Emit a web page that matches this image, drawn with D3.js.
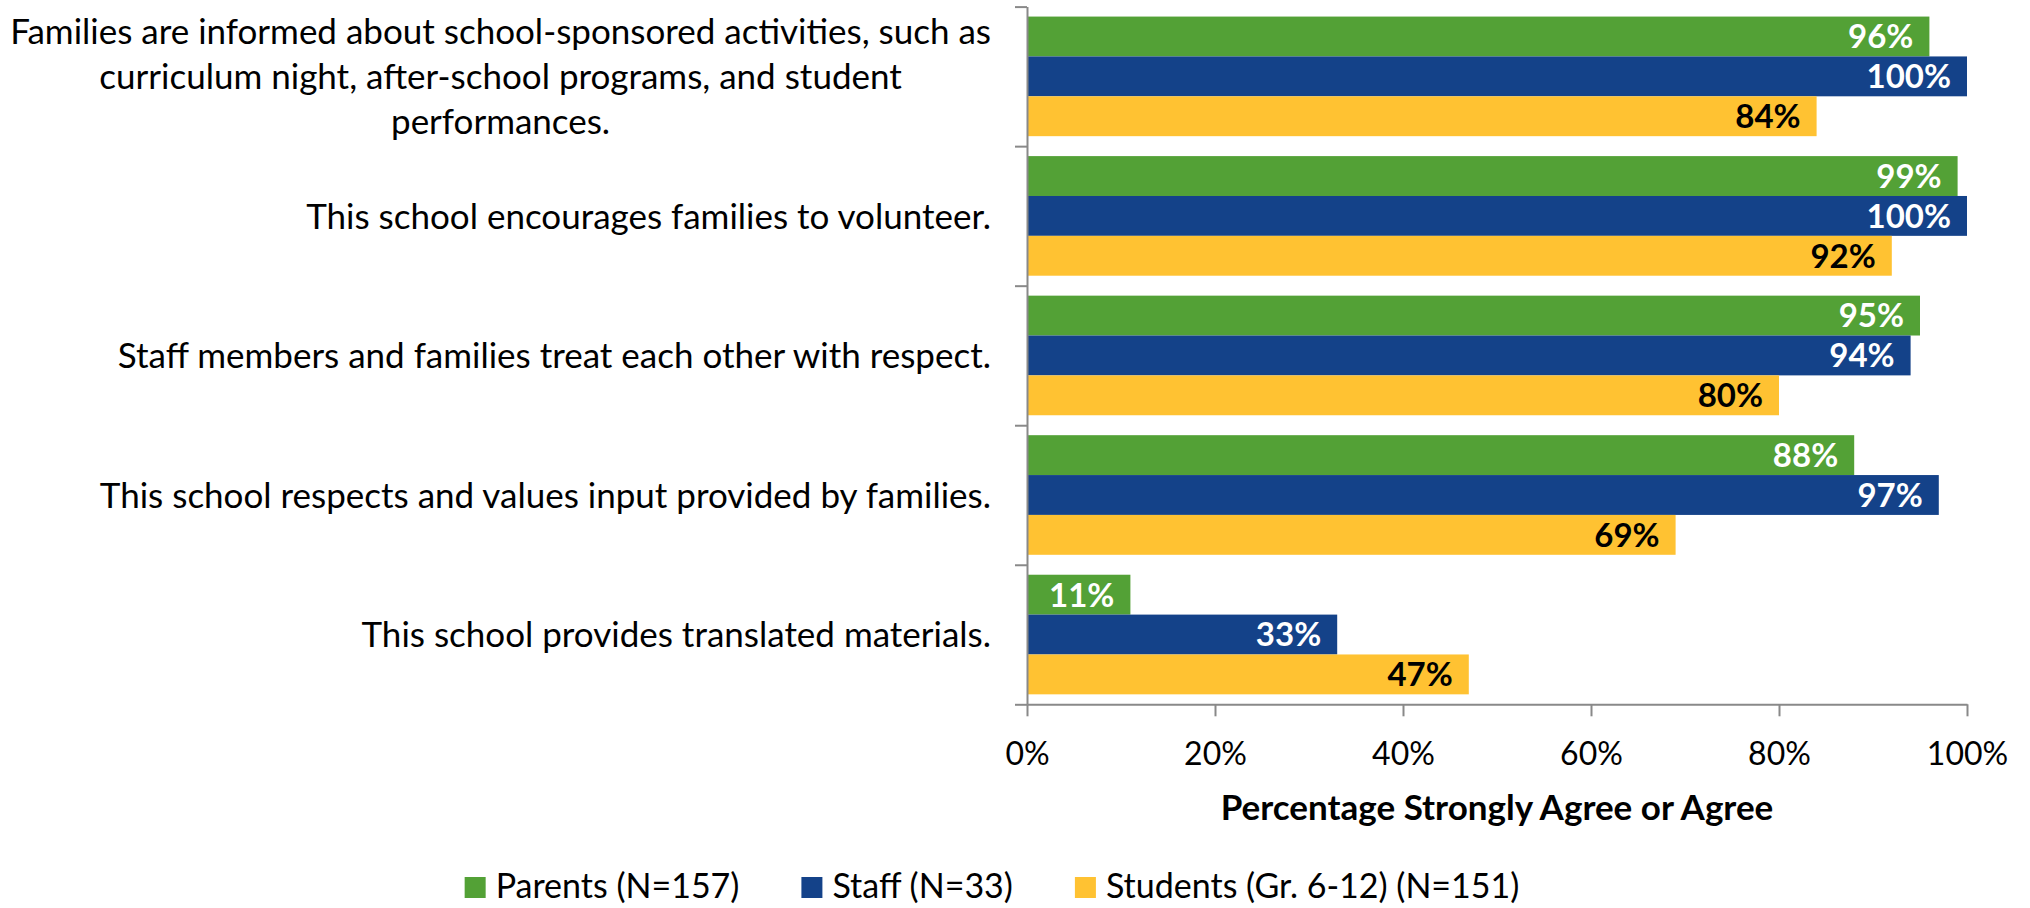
<!DOCTYPE html>
<html>
<head>
<meta charset="utf-8">
<script src="https://cdn.jsdelivr.net/npm/d3@7"></script>
<style>
  body { margin: 0; background: #fff; }
  svg { display: block; font-family: Lato, "Open Sans", sans-serif; }
</style>
</head>
<body>
<div id="chart"></div>
<script>
// survey items (line breaks as in the original)
const categories = [
  "Families are informed about school-sponsored activities, such as\ncurriculum night, after-school programs, and student\nperformances.",
  "This school encourages families to volunteer.",
  "Staff members and families treat each other with respect.",
  "This school respects and values input provided by families.",
  "This school provides translated materials."
];
const seriesNames = ["Parents (N=157)", "Staff (N=33)", "Students (Gr. 6-12) (N=151)"];
const parents = [96, 99, 95, 88, 11];
const staff = [100, 100, 94, 97, 33];
const students = [84, 92, 80, 69, 47];
const xTicks = [0, 20, 40, 60, 80, 100];
const xTitle = "Percentage Strongly Agree or Agree";

const colors = ["#53a136", "#144289", "#ffc232"];
const labelColors = ["#ffffff", "#ffffff", "#000000"];

function barChart() {
  const width = 2030, height = 908;
  const margin = { top: 6.6, left: 1027, right: 60, bottom: 204 };
  const axisColor = "#898989";

  const series = [parents, staff, students];
  const rows = categories.map((c, i) => ({
    cat: c,
    bars: series.map((s, k) => ({ k: k, value: s[i] }))
  }));

  const svg = d3.select("#chart")
    .append("svg")
    .attr("width", width)
    .attr("height", height);

  const x = d3.scaleLinear()
    .domain([0, 100])
    .range([margin.left, width - margin.right - 3]);

  const y = d3.scaleBand()
    .domain(categories)
    .range([margin.top, height - margin.bottom + 0.3])
    .paddingInner(0)
    .paddingOuter(0);

  const yInner = d3.scaleBand()
    .domain(d3.range(series.length))
    .range([0, y.bandwidth()])
    .paddingInner(0)
    .paddingOuter(0.25);

  // bars
  const groups = svg.append("g").selectAll("g")
    .data(rows)
    .join("g")
    .attr("transform", d => `translate(0,${y(d.cat)})`);

  groups.selectAll("rect")
    .data(d => d.bars)
    .join("rect")
    .attr("x", x(0))
    .attr("y", d => yInner(d.k))
    .attr("width", d => x(d.value) - x(0))
    .attr("height", yInner.bandwidth())
    .attr("fill", d => colors[d.k]);

  // value labels, inside end
  groups.selectAll("text")
    .data(d => d.bars)
    .join("text")
    .attr("x", d => x(d.value) - 16)
    .attr("y", d => yInner(d.k) + yInner.bandwidth() / 2)
    .attr("dy", "0.36em")
    .attr("text-anchor", "end")
    .attr("font-size", 33)
    .attr("font-weight", "bold")
    .attr("fill", d => labelColors[d.k])
    .text(d => d.value + "%");

  // category axis with ticks at band edges
  const yEdge = d3.scaleLinear()
    .domain([0, categories.length])
    .range(y.range());
  const leftAxis = svg.append("g")
    .attr("transform", `translate(${x(0)},0)`)
    .call(d3.axisLeft(yEdge)
      .tickValues(d3.range(categories.length + 1))
      .tickFormat("")
      .tickSize(12)
      .tickSizeOuter(0));
  leftAxis.select(".domain").attr("stroke", axisColor).attr("stroke-width", 2);
  leftAxis.selectAll(".tick line").attr("stroke", axisColor).attr("stroke-width", 2);

  // value axis
  const bottomAxis = svg.append("g")
    .attr("transform", `translate(0,${y.range()[1]})`)
    .call(d3.axisBottom(x)
      .tickValues(xTicks)
      .tickFormat(d => d + "%")
      .tickSize(12)
      .tickSizeOuter(0));
  bottomAxis.select(".domain").attr("stroke", axisColor).attr("stroke-width", 2);
  bottomAxis.selectAll(".tick line").attr("stroke", axisColor).attr("stroke-width", 2);
  bottomAxis.selectAll(".tick text")
    .attr("y", 49)
    .attr("dy", "0.36em")
    .attr("fill", "#000")
    .attr("font-size", 32)
    .attr("font-family", "Lato, 'Open Sans', sans-serif");

  svg.append("text")
    .attr("x", (x(0) + x(100)) / 2)
    .attr("y", 807)
    .attr("dy", "0.36em")
    .attr("text-anchor", "middle")
    .attr("font-size", 35)
    .attr("font-weight", "bold")
    .text(xTitle);

  // category labels: block right-aligned to the axis, lines centred inside it
  const labelRight = x(0) - 36;
  const lineH = 45;
  const catLabels = svg.append("g").selectAll("text")
    .data(categories)
    .join("text")
    .attr("font-size", 35)
    .attr("fill", "#000");

  catLabels.each(function (d) {
    const t = d3.select(this);
    const lines = d.split("\n");
    const cy = y(d) + y.bandwidth() / 2;
    lines.forEach((ln, i) => {
      t.append("tspan")
        .attr("y", cy + (i - (lines.length - 1) / 2) * lineH)
        .attr("dy", "0.36em")
        .text(ln);
    });
    const maxW = d3.max(t.selectAll("tspan").nodes(), n => n.getComputedTextLength());
    t.attr("text-anchor", "middle");
    t.selectAll("tspan").attr("x", labelRight - maxW / 2);
  });

  // legend
  const legend = svg.append("g");
  const items = legend.selectAll("g")
    .data(seriesNames)
    .join("g");
  items.append("rect")
    .attr("width", 21)
    .attr("height", 21)
    .attr("y", -9)
    .attr("fill", (d, i) => colors[i]);
  items.append("text")
    .attr("x", 31)
    .attr("dy", "0.36em")
    .attr("font-size", 34)
    .text(d => d);
  let cx = 0;
  items.each(function () {
    const g = d3.select(this);
    g.attr("transform", `translate(${cx},0)`);
    cx += 31 + g.select("text").node().getComputedTextLength() + 62;
  });
  const legendW = cx - 62;
  legend.attr("transform", `translate(${992 - legendW / 2},886)`);

  return svg;
}

barChart();
</script>
</body>
</html>
